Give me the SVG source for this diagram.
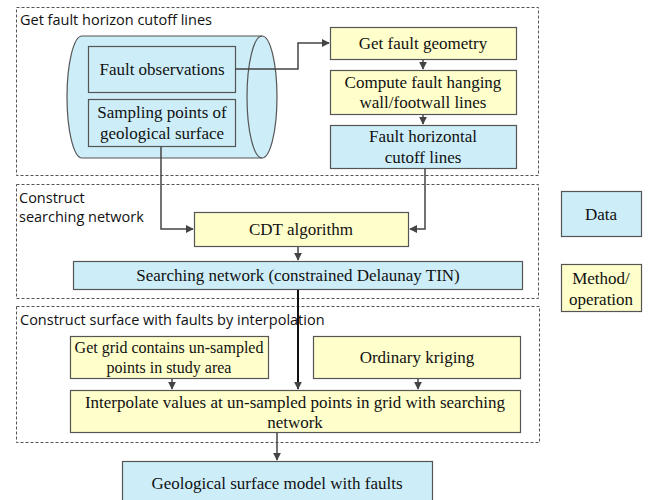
<svg xmlns="http://www.w3.org/2000/svg" width="655" height="500" viewBox="0 0 655 500">
<defs>
<style>
.sec{fill:none;stroke:#555;stroke-width:1;stroke-dasharray:3,2}
.lbl{font-family:"Open Sans","Liberation Sans",sans-serif;font-size:14.5px;fill:#111}
.data{fill:#cdeef9;stroke:#555;stroke-width:1.2}
.meth{fill:#ffffcc;stroke:#555;stroke-width:1.2}
.t{font-family:"Liberation Serif","Times New Roman",serif;font-size:17px;fill:#111;text-anchor:middle}
.c{fill:none;stroke:#444;stroke-width:1.5}
</style>
<marker id="ah" viewBox="0 0 10 10" refX="9" refY="5" markerWidth="8" markerHeight="8" markerUnits="userSpaceOnUse" orient="auto">
<path d="M0,0 L10,5 L0,10 Z" fill="#444"/>
</marker>
</defs>
<rect width="655" height="500" fill="#fff"/>
<g id="sections">
<rect class="sec" x="16.5" y="7.5" width="522" height="168"/>
<text class="lbl" x="20" y="25">Get fault horizon cutoff lines</text>
<rect class="sec" x="16.5" y="184.5" width="522" height="114"/>
<text class="lbl" x="19" y="203">Construct</text>
<text class="lbl" x="19" y="222">searching network</text>
<rect class="sec" x="16.5" y="306.5" width="523" height="136"/>
<text class="lbl" x="20" y="325">Construct surface with faults by interpolation</text>
</g>
<g id="cylinder">
<path class="data" d="M82,36 L262,36 A15,61 0 0 1 262,158 L82,158 A15,61 0 0 1 82,36 Z"/>
<path fill="none" stroke="#555" stroke-width="1.2" d="M262,36 A15,61 0 0 0 262,158"/>
</g>
<g id="fault-observations">
<rect class="data" x="88.5" y="46.5" width="147" height="46"/>
<text class="t" x="162" y="75">Fault observations</text>
</g>
<g id="sampling-points">
<rect class="data" x="88.5" y="99.5" width="147" height="47"/>
<text class="t" x="162" y="118">Sampling points of</text>
<text class="t" x="162" y="139">geological surface</text>
</g>
<g id="get-fault-geometry">
<rect class="meth" x="330.5" y="27.5" width="186" height="32"/>
<text class="t" x="423" y="49">Get fault geometry</text>
</g>
<g id="compute-fault">
<rect class="meth" x="330.5" y="70.5" width="186" height="44"/>
<text class="t" x="423" y="88">Compute fault hanging</text>
<text class="t" x="423" y="108">wall/footwall  lines</text>
</g>
<g id="fault-cutoff">
<rect class="data" x="330.5" y="125.5" width="186" height="43"/>
<text class="t" x="423" y="142">Fault horizontal</text>
<text class="t" x="423" y="163">cutoff lines</text>
</g>
<g id="cdt">
<rect class="meth" x="194.5" y="212.5" width="214" height="34"/>
<text class="t" x="301" y="235">CDT algorithm</text>
</g>
<g id="searching-network">
<rect class="data" x="73.5" y="261.5" width="449" height="28"/>
<text class="t" x="298" y="281">Searching network (constrained Delaunay TIN)</text>
</g>
<g id="get-grid">
<rect class="meth" x="70.5" y="336.5" width="198" height="42"/>
<text class="t" x="169" y="353" style="font-size:16px">Get grid contains un-sampled</text>
<text class="t" x="169" y="373" style="font-size:16px">points in study area</text>
</g>
<g id="kriging">
<rect class="meth" x="313.5" y="336.5" width="207" height="42"/>
<text class="t" x="417" y="363">Ordinary kriging</text>
</g>
<g id="interpolate">
<rect class="meth" x="70.5" y="390.5" width="450" height="42"/>
<text class="t" x="295" y="408">Interpolate values at un-sampled points in grid with searching</text>
<text class="t" x="295" y="428">network</text>
</g>
<g id="surface-model">
<rect class="data" x="122.5" y="461.5" width="310" height="45"/>
<text class="t" x="277" y="489">Geological surface model with faults</text>
</g>
<g id="legend-data">
<rect class="data" x="561.5" y="191.5" width="80" height="45"/>
<text class="t" x="601" y="220">Data</text>
</g>
<g id="legend-method">
<rect class="meth" x="561.5" y="264.5" width="80" height="47"/>
<text class="t" x="601" y="284">Method/</text>
<text class="t" x="601" y="305">operation</text>
</g>
<g id="connectors">
<path class="c" d="M235,69 H298 V43 H329" marker-end="url(#ah)"/>
<path class="c" d="M423,60 V69" marker-end="url(#ah)"/>
<path class="c" d="M423,115 V124" marker-end="url(#ah)"/>
<path class="c" d="M161,147 V229 H193" marker-end="url(#ah)"/>
<path class="c" d="M425,169 V229 H410" marker-end="url(#ah)"/>
<path class="c" d="M298,247 V260" marker-end="url(#ah)"/>
<path fill="none" stroke="#111" stroke-width="2" d="M298,290 V389" marker-end="url(#ah)"/>
<path class="c" d="M172,379 V389" marker-end="url(#ah)"/>
<path class="c" d="M418,379 V389" marker-end="url(#ah)"/>
<path class="c" d="M277,433 V460" marker-end="url(#ah)"/>
</g>
</svg>
